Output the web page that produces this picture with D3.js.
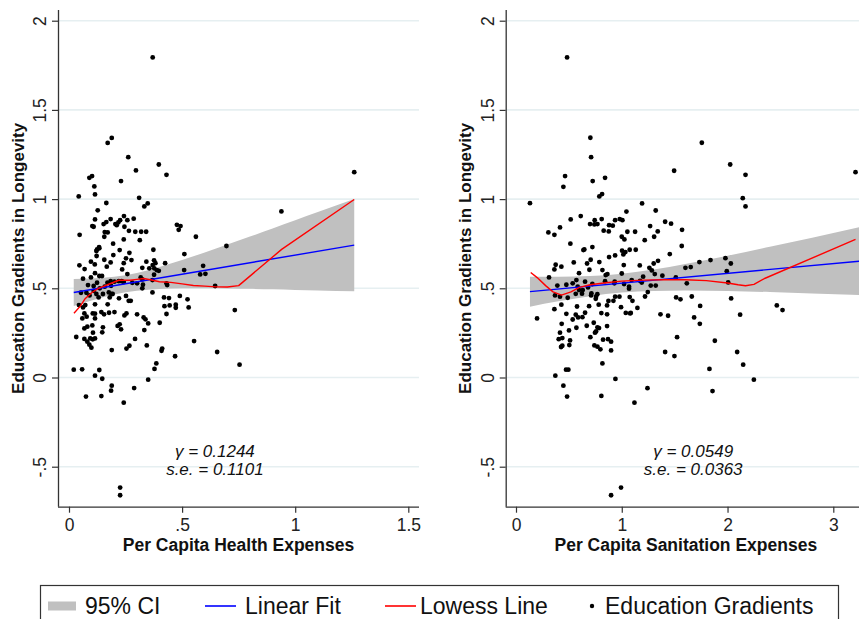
<!DOCTYPE html>
<html>
<head>
<meta charset="utf-8">
<script src="https://cdn.jsdelivr.net/npm/d3@7"></script>
<style>
  html, body { margin: 0; padding: 0; background: #fff; }
  svg { display: block; font-family: "Liberation Sans", Arial, Helvetica, sans-serif; }
</style>
</head>
<body>
<svg id="chart" width="859" height="619"></svg>
<script>
// ---------- data ----------
// Per capita health expenses vs. education gradient in longevity
const healthPoints = [
  [.189,1.343],[.171,1.315],[.262,1.235],[.397,1.194],[.296,1.161],[.431,1.136],[.090,1.119],[.102,1.129],
  [.230,1.101],[.112,1.071],[.115,1.026],[.043,1.015],[.310,1.007],[.165,.978],[.348,.976],[.333,.959],
  [.127,.937],[.115,.886],[.243,.905],[.184,.888],[.286,.890],[.226,.882],[.218,.869],[.205,.860],
  [.211,.854],[.258,.882],[.165,.871],[.153,.860],[.103,.849],[.109,.845],[.245,.845],[.477,.856],
  [.493,.849],[.485,.828],[.265,.822],[.293,.817],[.319,.817],[.341,.817],[.158,.815],[.171,.813],
  [.047,.800],[.156,.789],[.561,.789],[.242,.774],[.313,.770],[.195,.750],[.133,.731],[.124,.718],
  [.121,.709],[.134,.724],[.224,.714],[.373,.716],[.696,.737],[.267,.699],[.196,.686],[.510,.692],
  [.122,.681],[.252,.668],[.276,.658],[.156,.660],[.184,.645],[.097,.649],[.114,.634],[.242,.641],
  [.342,.649],[.376,.657],[.382,.641],[.425,.641],[.046,.629],[.069,.608],[.167,.621],[.115,.585],
  [.235,.606],[.324,.615],[.355,.612],[.370,.630],[.377,.612],[.388,.602],[.397,.598],[.509,.602],
  [.593,.626],[.258,.580],[.580,.578],[.603,.581],
  [.370,1.794],[1.261,1.151],[.939,.931],[.226,-.617],[.226,-.660],
  [.317,.561],[.376,.576],[.062,.554],[.097,.561],[.134,.569],[.146,.569],[.084,.518],[.109,.513],
  [.124,.531],[.136,.500],[.158,.509],[.170,.531],[.184,.540],[.186,.514],[.201,.537],[.220,.540],
  [.233,.540],[.242,.535],[.280,.531],[.301,.528],[.327,.520],[.324,.550],[.369,.546],[.431,.528],
  [.434,.518],[.646,.513],[.053,.475],[.077,.475],[.091,.460],[.109,.486],[.121,.468],[.131,.449],
  [.150,.468],[.176,.477],[.187,.468],[.180,.449],[.193,.468],[.221,.444],[.252,.457],[.264,.430],
  [.273,.430],[.324,.500],[.369,.477],[.420,.449],[.442,.445],[.490,.457],[.524,.438],[.044,.406],
  [.062,.393],[.072,.406],[.115,.410],[.171,.410],[.422,.400],[.445,.404],[.472,.408],[.472,.391],
  [.529,.393],[.733,.378],[.068,.359],[.059,.331],[.078,.341],[.105,.359],[.115,.358],[.115,.331],
  [.143,.367],[.155,.354],[.177,.363],[.201,.367],[.245,.348],[.254,.359],[.301,.354],[.330,.337],
  [.338,.326],[.431,.356],[.350,.303],[.401,.307],[.224,.298],[.215,.289],[.230,.270],[.103,.292],
  [.081,.285],[.068,.275],[.150,.281],[.147,.253],[.106,.251],[.333,.266],[.032,.227],[.068,.216],
  [.094,.219],[.105,.214],[.115,.219],[.081,.201],[.090,.184],[.099,.167],[.292,.216],[.267,.178],
  [.254,.162],[.344,.180],[.409,.150],[.412,.162],[.189,.154],[.553,.204],[.655,.143],[.469,.119],
  [.386,.079],[.378,.048],[.754,.072],[.021,.044],[.058,.046],[.134,.042],[.115,.010],[.147,-.007],
  [.350,-.012],[.189,-.046],[.186,-.074],[.288,-.059],[.075,-.107],[.143,-.104],[.242,-.141]
];

// Per capita sanitation expenses vs. education gradient in longevity
const sanitationPoints = [
  [.703,1.344],[.710,1.235],[1.757,1.316],[.464,1.129],[.448,1.069],[.725,1.101],[.842,1.119],[1.495,1.159],
  [2.025,1.194],[2.170,1.136],[.788,1.015],[.814,1.028],[.132,.977],[1.192,.976],[2.144,1.005],[2.170,.959],
  [1.321,.936],[1.044,.930],[.612,.905],[.517,.886],[.810,.888],[.744,.882],[.741,.858],[.700,.860],
  [.770,.860],[.937,.882],[.981,.888],[1.006,.882],[.880,.854],[.915,.851],[.829,.823],[.877,.819],
  [1.410,.873],[1.466,.862],[1.268,.849],[.416,.841],[.306,.813],[.363,.800],[1.053,.817],[1.126,.817],
  [1.340,.819],[1.306,.789],[1.000,.789],[1.025,.774],[1.570,.828],[1.217,.770],[.514,.750],[.722,.731],
  [1.567,.737],[.646,.718],[.637,.714],[1.003,.711],[1.034,.703],[1.015,.690],[1.075,.716],[1.132,.716],
  [.937,.684],[.880,.675],[1.454,.692],[.546,.645],[.672,.639],[.706,.660],[.788,.647],[.817,.602],
  [.375,.632],[.363,.606],[.429,.621],[.596,.585],[.694,.604],[1.019,.630],[1.170,.628],[1.261,.615],
  [1.284,.600],[1.302,.639],[1.343,.654],[1.602,.615],[1.652,.619],[1.734,.647],[1.839,.658],[1.980,.669],
  [2.031,.639],[1.993,.596],[1.000,.583],[.848,.574],[.864,.580],
  [.483,1.794],[3.21,1.151],[2.466,.404],[2.520,.378],[.899,-.660],[.993,-.617],
  [.312,.561],[1.312,.580],[1.384,.571],[1.511,.561],[1.615,.528],[2.006,.533],[.391,.515],[.476,.520],
  [.536,.528],[.571,.546],[.583,.509],[.653,.537],[.722,.524],[.681,.505],[.596,.490],[.631,.490],
  [.565,.469],[.624,.470],[.369,.460],[.416,.453],[.489,.447],[.713,.472],[.710,.460],[.769,.467],
  [.757,.453],[.754,.441],[.842,.540],[.930,.528],[.933,.537],[1.022,.524],[1.069,.509],[1.069,.498],
  [1.094,.546],[1.173,.542],[1.202,.565],[1.189,.532],[1.274,.515],[1.321,.515],[.937,.453],[.978,.453],
  [.874,.429],[.921,.430],[1.075,.451],[1.101,.430],[1.220,.454],[1.246,.479],[1.514,.449],[1.555,.438],
  [1.662,.454],[1.741,.401],[2.034,.443],[.429,.408],[.577,.398],[.691,.400],[.782,.408],[.861,.404],
  [.993,.394],[1.038,.362],[1.079,.359],[1.085,.362],[1.148,.390],[.199,.331],[.363,.383],[.476,.357],
  [.565,.352],[.587,.337],[.628,.338],[.536,.325],[.653,.363],[.807,.361],[.861,.354],[1.366,.354],
  [1.438,.346],[1.684,.337],[1.738,.301],[2.119,.352],[.432,.301],[.571,.279],[.669,.290],[.735,.307],
  [.770,.281],[.785,.277],[.757,.258],[.747,.251],[.861,.288],[.416,.251],[.501,.264],[.404,.215],
  [.438,.221],[.426,.171],[.438,.178],[.504,.182],[.511,.208],[.703,.226],[.741,.180],[.770,.173],
  [.798,.158],[.823,.212],[.870,.215],[.899,.201],[.899,.152],[1.523,.226],[1.880,.206],[1.410,.143],
  [1.498,.120],[2.091,.143],[2.148,.072],[.817,.079],[.372,.010],[.448,-.046],[.483,-.107],[.473,.044],
  [.495,.044],[.940,-.008],[1.243,-.060],[.807,-.103],[1.120,-.141],[1.829,.048],[1.858,-.076],[2.249,-.012]
];

// Linear fit endpoints and 95% confidence band (x, lower, upper)
const healthFit = [[0.021, 0.4765], [1.261, 0.7419]];
const healthCI = [
  [0.021, 0.401, 0.552], [0.1, 0.432, 0.555], [0.2, 0.465, 0.565], [0.3, 0.486, 0.586],
  [0.4, 0.496, 0.619], [0.5, 0.500, 0.658], [0.6, 0.500, 0.701], [0.7, 0.499, 0.745],
  [0.8, 0.497, 0.790], [0.9, 0.494, 0.835], [1.0, 0.491, 0.881], [1.1, 0.488, 0.927],
  [1.261, 0.483, 1.001]
];
const healthLowess = [
  [0.022,0.36],[0.05,0.40],[0.07,0.44],[0.10,0.475],[0.13,0.50],[0.17,0.52],[0.22,0.545],[0.27,0.545],
  [0.30,0.55],[0.33,0.555],[0.36,0.548],[0.40,0.537],[0.45,0.533],[0.50,0.525],[0.55,0.516],[0.60,0.512],
  [0.65,0.508],[0.70,0.507],[0.75,0.515],[0.94,0.718],[1.261,0.998]
];

const sanitationFit = [[0.132, 0.4812], [3.245, 0.6521]];
const sanitationCI = [
  [0.132, 0.397, 0.565], [0.4, 0.427, 0.565], [0.7, 0.456, 0.569], [1.0, 0.476, 0.582],
  [1.3, 0.485, 0.605], [1.6, 0.488, 0.636], [2.0, 0.485, 0.683], [2.4, 0.479, 0.733],
  [2.8, 0.471, 0.784], [3.245, 0.462, 0.842]
];
const sanitationLowess = [
  [0.139,0.589],[0.20,0.56],[0.28,0.515],[0.35,0.48],[0.43,0.462],[0.52,0.48],[0.60,0.505],[0.70,0.52],
  [0.85,0.531],[1.0,0.54],[1.2,0.546],[1.4,0.548],[1.6,0.548],[1.8,0.543],[2.0,0.53],[2.1,0.52],
  [2.17,0.514],[2.25,0.522],[2.35,0.555],[3.21,0.774]
];

// axis ticks and labels
const yTicks = [-0.5, 0, 0.5, 1, 1.5, 2];
const yTickLabels = ["-.5", "0", ".5", "1", "1.5", "2"];
const healthXTicks = [0, 0.5, 1, 1.5];
const healthXTickLabels = ["0", ".5", "1", "1.5"];
const sanitationXTicks = [0, 1, 2, 3];
const sanitationXTickLabels = ["0", "1", "2", "3"];

const yTitle = "Education Gradients in Longevity";
const panels = [
  { points: healthPoints, fit: healthFit, ci: healthCI, lowess: healthLowess,
    xTicks: healthXTicks, xLabels: healthXTickLabels, xDomain: [0, 1.5],
    xTitle: "Per Capita Health Expenses", gamma: "γ = 0.1244", se: "s.e. = 0.1101", statX: 0.645,
    frame: { left: 58, right: 419, top: 10, bottom: 506.7, x0: 69, x1: 408.3 } },
  { points: sanitationPoints, fit: sanitationFit, ci: sanitationCI, lowess: sanitationLowess,
    xTicks: sanitationXTicks, xLabels: sanitationXTickLabels, xDomain: [0, 3],
    xTitle: "Per Capita Sanitation Expenses", gamma: "γ = 0.0549", se: "s.e. = 0.0363", statX: 1.675,
    frame: { left: 505.7, right: 866, top: 10, bottom: 506.7, x0: 516, x1: 833.3 } }
];

const svg = d3.select("#chart");
const yRange = [466.7, 20.7];

panels.forEach(p => {
  const f = p.frame;
  const x = d3.scaleLinear().domain(p.xDomain).range([f.x0, f.x1]);
  const y = d3.scaleLinear().domain([-0.5, 2]).range(yRange);
  const g = svg.append("g");

  // horizontal grid
  g.selectAll("line.grid").data(yTicks).join("line")
    .attr("class", "grid")
    .attr("x1", f.left + 1).attr("x2", f.right)
    .attr("y1", d => y(d)).attr("y2", d => y(d))
    .attr("stroke", "#e6eff1").attr("stroke-width", 1.6);

  // confidence band
  g.append("path").datum(p.ci)
    .attr("d", d3.area().x(d => x(d[0])).y0(d => y(d[1])).y1(d => y(d[2])).curve(d3.curveMonotoneX))
    .attr("fill", "#c0c0c0");

  // scatter points
  g.selectAll("circle").data(p.points).join("circle")
    .attr("cx", d => x(d[0])).attr("cy", d => y(d[1])).attr("r", 2.4)
    .attr("fill", "#000");

  // linear fit
  g.append("path").datum(p.fit)
    .attr("d", d3.line().x(d => x(d[0])).y(d => y(d[1])))
    .attr("fill", "none").attr("stroke", "#0000ff").attr("stroke-width", 1.4);

  // lowess smoother
  g.append("path").datum(p.lowess)
    .attr("d", d3.line().x(d => x(d[0])).y(d => y(d[1])))
    .attr("fill", "none").attr("stroke", "#ff0000").attr("stroke-width", 1.4)
    .attr("stroke-linejoin", "round");

  // y axis
  const yAxis = g.append("g").attr("transform", `translate(${f.left},0)`)
    .call(d3.axisLeft(y).tickValues(yTicks).tickFormat((d, i) => yTickLabels[i]).tickSize(6).tickSizeOuter(0));
  yAxis.select(".domain").attr("stroke", "#333").attr("stroke-width", 1.3)
    .attr("d", `M0.5,${f.top}V${f.bottom}`);
  yAxis.selectAll(".tick line").attr("stroke", "#333").attr("stroke-width", 1.2);
  yAxis.selectAll(".tick text")
    .attr("x", null).attr("dy", null)
    .attr("transform", "translate(-18,0) rotate(-90)")
    .attr("text-anchor", "middle").attr("dominant-baseline", "central")
    .attr("font-size", 17.5).attr("fill", "#222")
    .style("font-family", "'Liberation Sans', Arial, sans-serif");

  // x axis
  const xAxis = g.append("g").attr("transform", `translate(0,${f.bottom})`)
    .call(d3.axisBottom(x).tickValues(p.xTicks).tickFormat((d, i) => p.xLabels[i]).tickSize(6).tickSizeOuter(0));
  xAxis.select(".domain").attr("stroke", "#333").attr("stroke-width", 1.3)
    .attr("d", `M${f.left},0.5H${f.right}`);
  xAxis.selectAll(".tick line").attr("stroke", "#333").attr("stroke-width", 1.2);
  xAxis.selectAll(".tick text").attr("y", 12).attr("dy", "0.71em")
    .attr("font-size", 17.5).attr("fill", "#222")
    .style("font-family", "'Liberation Sans', Arial, sans-serif");

  // axis titles
  g.append("text")
    .attr("x", (f.left + f.right) / 2).attr("y", 550.5)
    .attr("text-anchor", "middle").attr("font-size", 17.5).attr("font-weight", "bold").attr("fill", "#111")
    .text(p.xTitle);
  g.append("text")
    .attr("transform", `translate(${f.left - 40},${(f.top + f.bottom) / 2}) rotate(-90)`)
    .attr("text-anchor", "middle").attr("dominant-baseline", "central")
    .attr("font-size", 17).attr("font-weight", "bold").attr("fill", "#111")
    .text(yTitle);

  // coefficient annotation
  const ann = g.append("text").attr("text-anchor", "middle")
    .attr("font-size", 17).attr("font-style", "italic").attr("fill", "#111");
  ann.append("tspan").attr("x", x(p.statX)).attr("y", 456.5).text(p.gamma);
  ann.append("tspan").attr("x", x(p.statX)).attr("y", 474.5).text(p.se);
});

// ---------- legend ----------
const legend = svg.append("g");
legend.append("rect").attr("x", 40.5).attr("y", 585.5).attr("width", 798).attr("height", 50)
  .attr("fill", "#fff").attr("stroke", "#333").attr("stroke-width", 1.2);
const ly = 606;
legend.append("rect").attr("x", 48).attr("y", ly - 4.5).attr("width", 28).attr("height", 9).attr("fill", "#c0c0c0");
legend.append("line").attr("x1", 205).attr("x2", 236).attr("y1", ly).attr("y2", ly)
  .attr("stroke", "#0000ff").attr("stroke-width", 1.6);
legend.append("line").attr("x1", 385).attr("x2", 416).attr("y1", ly).attr("y2", ly)
  .attr("stroke", "#ff0000").attr("stroke-width", 1.6);
legend.append("circle").attr("cx", 592).attr("cy", ly).attr("r", 2.2).attr("fill", "#000");
const legendItems = [["95% CI", 85], ["Linear Fit", 245], ["Lowess Line", 420], ["Education Gradients", 605]];
legend.selectAll("text").data(legendItems).join("text")
  .attr("x", d => d[1]).attr("y", ly).attr("dominant-baseline", "central")
  .attr("font-size", 23).attr("fill", "#111")
  .text(d => d[0]);
</script>
</body>
</html>
